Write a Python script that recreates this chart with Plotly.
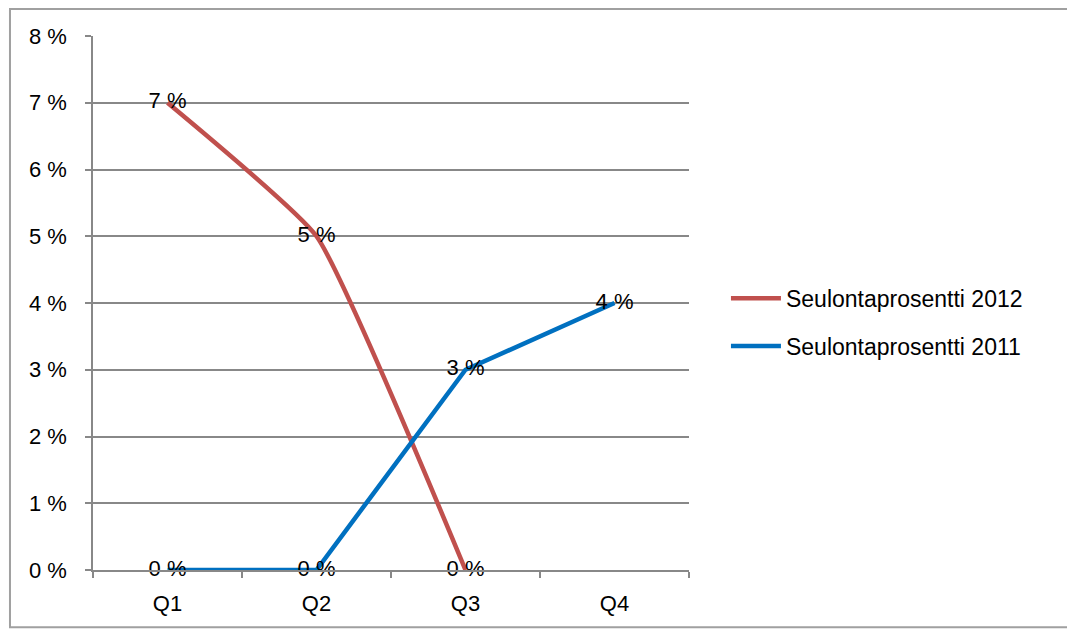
import plotly.graph_objects as go

categories = ["Q1", "Q2", "Q3", "Q4"]
series_2012 = [7.0, 5.0, 0.0, None]
series_2011 = [0.0, 0.0, 3.0, 4.0]
labels_2012 = ["7 %", "5 %", "0 %", ""]
labels_2011 = ["0 %", "0 %", "3 %", "4 %"]
y_ticks = [0, 1, 2, 3, 4, 5, 6, 7, 8]
y_tick_labels = [f"{v} %" for v in y_ticks]

FONT = "Liberation Sans, Arial, sans-serif"
RED = "#C0504D"
BLUE = "#0070C0"
GRID = "#888888"

fig = go.Figure()
fig.add_trace(go.Scatter(x=categories, y=series_2012, mode="lines",
                         name="Seulontaprosentti 2012", legendgroup="a",
                         line=dict(color=RED, width=4.5, shape="spline", smoothing=0.4),
                         connectgaps=False))
fig.add_trace(go.Scatter(x=categories, y=series_2011, mode="lines",
                         name="Seulontaprosentti 2011", legendgroup="b",
                         line=dict(color=BLUE, width=4.5)))
fig.add_trace(go.Scatter(x=categories, y=series_2012, mode="text", text=labels_2012,
                         textposition="middle center", showlegend=False,
                         textfont=dict(family=FONT, size=22, color="#000000"),
                         hoverinfo="skip", cliponaxis=False))
fig.add_trace(go.Scatter(x=categories, y=series_2011, mode="text", text=labels_2011,
                         textposition="middle center", showlegend=False,
                         textfont=dict(family=FONT, size=22, color="#000000"),
                         hoverinfo="skip", cliponaxis=False))

fig.update_layout(
    width=1075, height=630,
    margin=dict(l=85, r=394, t=28, b=68, autoexpand=False),
    paper_bgcolor="white", plot_bgcolor="white",
    font=dict(family=FONT, size=21, color="#000000"),
    showlegend=True,
    legend=dict(x=1.062, xanchor="left", y=0.464, yanchor="middle",
                traceorder="grouped", tracegroupgap=15, itemwidth=50,
                font=dict(family=FONT, size=23, color="#000000"),
                bgcolor="rgba(0,0,0,0)"),
    xaxis=dict(type="category", range=[-0.5, 3.5], showgrid=False,
               showline=True, linecolor=GRID, linewidth=1.5,
               ticks="outside", tickson="boundaries", ticklen=6,
               tickcolor=GRID, tickwidth=1.5, zeroline=False,
               ticklabelstandoff=13, automargin=False,
               tickfont=dict(family=FONT, size=22)),
    yaxis=dict(range=[0, 8], tickvals=y_ticks, ticktext=y_tick_labels,
               showgrid=True, gridcolor=GRID, gridwidth=1.5,
               showline=True, linecolor=GRID, linewidth=1.5,
               ticks="outside", ticklen=6, tickcolor=GRID, tickwidth=1.5,
               zeroline=False, ticklabelstandoff=14, automargin=False,
               tickfont=dict(family=FONT, size=22)),
    shapes=[dict(type="rect", xref="paper", yref="paper",
                 x0=-0.1393, x1=1.75, y0=-0.107, y1=1.0506,
                 line=dict(color="#A0A0A0", width=2), fillcolor="rgba(0,0,0,0)",
                 layer="below")],
)

fig.write_html("out.html")
